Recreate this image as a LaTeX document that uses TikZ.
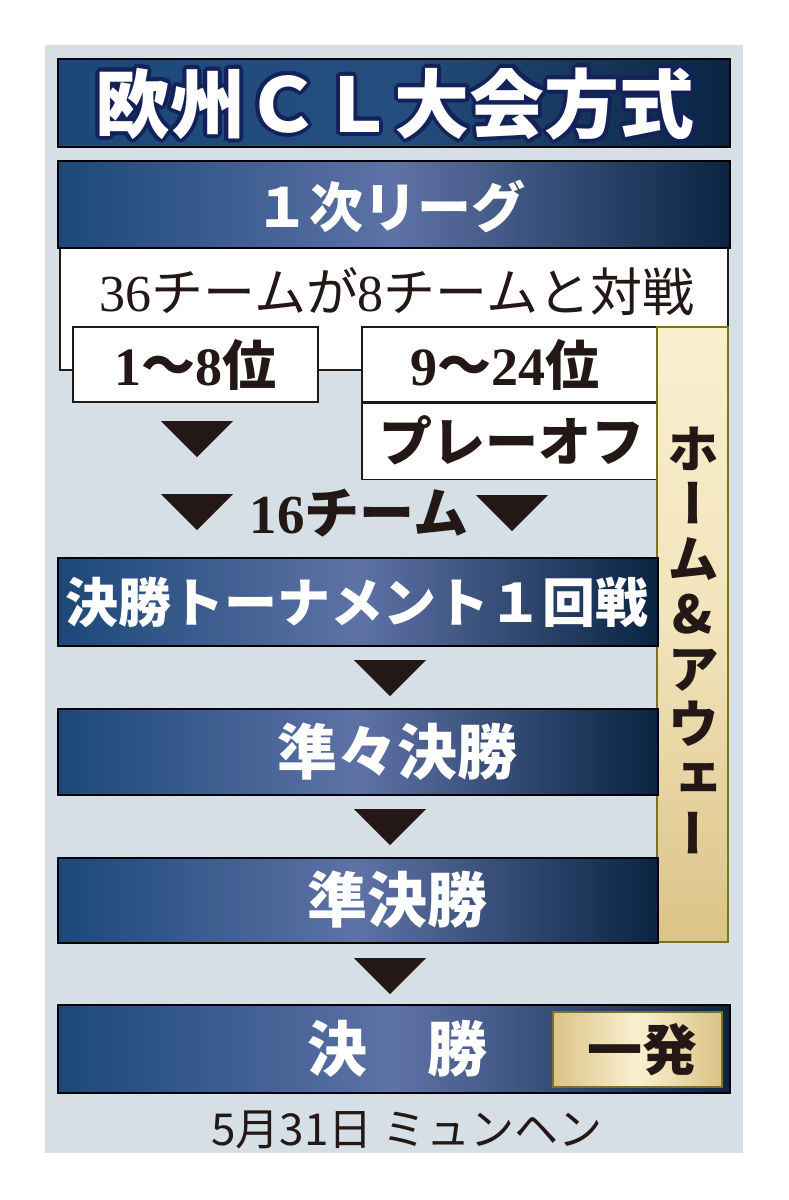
\documentclass[tikz,border=0pt]{standalone}
\usepackage{fontspec}
\newfontfamily\jp{Noto Sans CJK JP}
\newfontfamily\jpv[RawFeature=+vert]{Noto Sans CJK JP}
\newfontfamily\numserif{Liberation Serif}
\usetikzlibrary{positioning}
\definecolor{panelbg}{HTML}{D6DEE6}
\definecolor{navydark}{HTML}{0A2442}
\definecolor{navymid}{HTML}{1B4878}
\definecolor{navylight}{HTML}{5E72A6}
\definecolor{navyline}{HTML}{14225A}
\definecolor{goldlight}{HTML}{FAF0D0}
\definecolor{golddark}{HTML}{DCC386}
\definecolor{goldline}{HTML}{7A7224}
\definecolor{ink}{HTML}{231815}
\begin{document}
\begin{tikzpicture}[x=1pt, y=-1pt,
    bar/.style={draw=black, line width=2pt, left color=navymid, right color=navydark, middle color=navylight, inner sep=0pt},
    titlebar/.style={draw=black, line width=2pt, left color=navymid, right color=navydark, middle color=navymid!85!navylight, inner sep=0pt},
    barlabel/.style={text=white, inner sep=0pt, font=\jp\bfseries\fontsize{60}{60}\selectfont},
    whitebox/.style={draw=ink, line width=1.6pt, fill=white, inner sep=0pt},
    boxlabel/.style={text=ink, inner sep=0pt, font=\jp\bfseries\fontsize{54}{54}\selectfont},
    goldbox/.style={draw=goldline, line width=2pt, top color=goldlight, bottom color=golddark, middle color=goldlight!70!golddark, inner sep=0pt},
    tri/.style={fill=ink}]
  \useasboundingbox (0,0) rectangle (789,1200);
  \fill[white] (0,0) rectangle (789,1200);
  \fill[panelbg] (45,45) rectangle (743,1153);

  % title
  \node[titlebar, minimum width=672pt, minimum height=88pt] (title) at (394,103) {};
  \foreach \a in {0,30,...,330}
    \node[text=navyline, inner sep=0pt, font=\jp\bfseries\fontsize{75}{75}\selectfont] at ([shift={(\a:4)}]395,104) {欧州ＣＬ大会方式};
  \node[text=white, inner sep=0pt, font=\jp\bfseries\fontsize{75}{75}\selectfont] (titletext) at (395,104) {欧州ＣＬ大会方式};

  % group stage
  \draw[whitebox] (60,248) rectangle (728,370);
  \node[bar, minimum width=672pt, minimum height=87pt] (league) at (394,204.5) {};
  \node[barlabel, font=\jp\bfseries\fontsize{54}{54}\selectfont] (leaguetext) at (390,206) {１次リーグ};
  \node[text=ink, inner sep=0pt, font=\jp\fontsize{52}{52}\selectfont] (match) at (397,292) {{\numserif 36}チームが{\numserif 8}チームと対戦};
  \node[whitebox, minimum width=245pt, minimum height=75pt] (top8) at (195.5,364.5) {};
  \node[boxlabel] at (top8) {{\numserif\bfseries 1}～{\numserif\bfseries 8}位};
  \node[whitebox, minimum width=295pt, minimum height=75pt] (mid16) at (509.5,364.5) {};
  \node[boxlabel] at (505,365) {{\numserif\bfseries 9}～{\numserif\bfseries 24}位};
  \node[whitebox, minimum width=295pt, minimum height=76pt, below=0pt of mid16] (playoff) {};
  \node[boxlabel, font=\jp\bfseries\fontsize{53}{53}\selectfont] at (512,440) {プレーオフ};

  % home and away
  \node[goldbox, minimum width=71pt, minimum height=615pt] (homeaway) at (692.5,634.5) {};
  \node[text=ink, inner sep=0pt, align=center, font=\jpv\bfseries\fontsize{52}{55}\selectfont] (hatext) at (693,640) {ホ\\ー\\ム\\\&\\ア\\ウ\\ェ\\ー};

  % arrows
  \foreach \tx/\ty in {197/421, 197/494, 512/495, 390/660, 390/809, 390/958}
    \fill[tri] (\tx-36,\ty) -- (\tx+36,\ty) -- (\tx,\ty+36) -- cycle;
  \node[boxlabel, font=\jp\bfseries\fontsize{55}{55}\selectfont] (sixteen) at (359,513) {{\numserif\bfseries 16}チーム};

  % knockout
  \node[bar, minimum width=600pt, minimum height=88pt] (ko) at (358,602) {};
  \node[barlabel, font=\jp\bfseries\fontsize{53}{53}\selectfont] (kotext) at (357,602) {決勝トーナメント１回戦};
  \node[bar, minimum width=600pt, minimum height=86pt] (qf) at (358,752) {};
  \node[barlabel] (qftext) at (397,752) {準々決勝};
  \node[bar, minimum width=600pt, minimum height=85pt] (sf) at (358,900.5) {};
  \node[barlabel] (sftext) at (397,900) {準決勝};
  \node[bar, minimum width=672pt, minimum height=88pt] (final) at (394,1049) {};
  \node[barlabel] (finaltext) at (397,1049) {決　勝};
  \node[goldbox, left color=golddark, right color=golddark, middle color=goldlight, minimum width=169pt, minimum height=75pt] (oneleg) at (637.5,1049.5) {};
  \node[boxlabel, font=\jp\bfseries\fontsize{55}{55}\selectfont] at (642,1050) {一発};

  \node[text=ink, inner sep=0pt, font=\jp\fontsize{44}{44}\selectfont] (date) at (407,1130) {5月31日 ミュンヘン};
\end{tikzpicture}
\end{document}
